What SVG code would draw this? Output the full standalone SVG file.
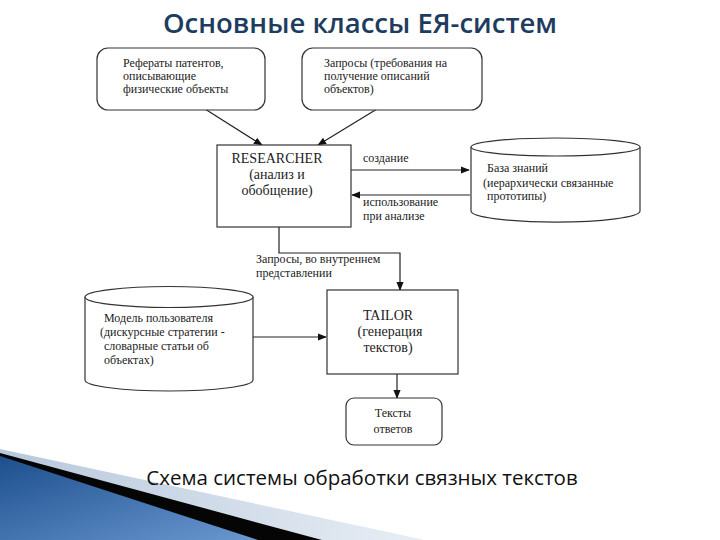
<svg xmlns="http://www.w3.org/2000/svg" width="720" height="540" viewBox="0 0 720 540">
<style>
.box{fill:#fff;stroke:#333;stroke-width:1.2}
.t{font-family:"Liberation Serif","Times New Roman",serif;font-size:12px;fill:#222}
.tb{font-family:"Liberation Serif","Times New Roman",serif;font-size:14px;fill:#222}
.ln{fill:none;stroke:#222;stroke-width:1.2}
</style>
<defs>
<marker id="ah" viewBox="0 0 10 10" refX="9" refY="5" markerWidth="9" markerHeight="9" markerUnits="userSpaceOnUse" orient="auto">
<path d="M0,1 L10,5 L0,9 Z" fill="#111"/>
</marker>
<linearGradient id="blue" x1="0" y1="0" x2="1" y2="1">
<stop offset="0" stop-color="#1d4f8e"/>
<stop offset="1" stop-color="#6a98d0"/>
</linearGradient>
<linearGradient id="light" x1="0" y1="0" x2="1" y2="0">
<stop offset="0" stop-color="#b8c8dc"/>
<stop offset="1" stop-color="#e8eef5"/>
</linearGradient>
</defs>
<rect width="720" height="540" fill="#fff"/>

<g id="decor">
<polygon points="0,449 425,540 0,540" fill="url(#light)"/>
<polygon points="0,453 322,540 0,540" fill="#050505"/>
<polygon points="0,456 258,540 0,540" fill="url(#blue)"/>
</g>

<g id="title">
<text x="360" y="33" text-anchor="middle" font-family="'Open Sans','Noto Sans',sans-serif" font-size="27.5" font-weight="600" fill="#1e3c60">Основные классы ЕЯ-систем</text>
</g>

<g id="caption">
<text x="362" y="485" text-anchor="middle" font-family="'Open Sans','Noto Sans',sans-serif" font-size="20.5" fill="#111">Схема системы обработки связных текстов</text>
</g>

<g id="connectors">
<line class="ln" x1="205" y1="109" x2="262" y2="145" marker-end="url(#ah)"/>
<line class="ln" x1="377" y1="109" x2="318" y2="145" marker-end="url(#ah)"/>
<line class="ln" x1="351" y1="170" x2="469" y2="170" marker-end="url(#ah)"/>
<line class="ln" x1="470" y1="195" x2="352" y2="195" marker-end="url(#ah)"/>
<polyline class="ln" points="279,227 279,253 400,253 400,290" marker-end="url(#ah)"/>
<line class="ln" x1="253" y1="337" x2="326" y2="337" marker-end="url(#ah)"/>
<line class="ln" x1="397" y1="374" x2="397" y2="398" marker-end="url(#ah)"/>
<text class="t" x="363" y="162">создание</text>
<text class="t" x="363" y="206">использование</text>
<text class="t" x="363" y="220">при анализе</text>
<text class="t" x="256" y="263">Запросы, во внутреннем</text>
<text class="t" x="256" y="277">представлении</text>
</g>

<g id="callout1">
<rect class="box" x="97" y="48" width="168" height="62" rx="11"/>
<text class="t" x="123" y="67">Рефераты патентов,</text>
<text class="t" x="123" y="80">описывающие</text>
<text class="t" x="123" y="93">физические объекты</text>
</g>

<g id="callout2">
<rect class="box" x="302" y="48" width="180" height="62" rx="11"/>
<text class="t" x="324" y="67">Запросы (требования на</text>
<text class="t" x="324" y="80">получение описаний</text>
<text class="t" x="324" y="93">объектов)</text>
</g>

<g id="researcher">
<rect class="box" x="217" y="145" width="134" height="82"/>
<text class="tb" x="277" y="163" text-anchor="middle">RESEARCHER</text>
<text class="tb" x="277" y="179" text-anchor="middle">(анализ и</text>
<text class="tb" x="277" y="195" text-anchor="middle">обобщение)</text>
</g>

<g id="kb">
<path class="box" d="M471,147 L471,211 A84,11 0 0 0 640,211 L640,147"/>
<ellipse class="box" cx="555.5" cy="147" rx="84.5" ry="9"/>
<text class="t" x="487" y="172">База знаний</text>
<text class="t" x="483" y="187">(иерархически связанные</text>
<text class="t" x="487" y="200">прототипы)</text>
</g>

<g id="usermodel">
<path class="box" d="M85,297 L85,380 A84,11 0 0 0 253,380 L253,297"/>
<ellipse class="box" cx="169" cy="297" rx="84" ry="10.5"/>
<text class="t" x="104" y="322">Модель пользователя</text>
<text class="t" x="100" y="336">(дискурсные стратегии -</text>
<text class="t" x="104" y="350">словарные статьи об</text>
<text class="t" x="104" y="364">объектах)</text>
</g>

<g id="tailor">
<rect class="box" x="327" y="290" width="131" height="84"/>
<text class="tb" x="388" y="320" text-anchor="middle">TAILOR</text>
<text class="tb" x="390" y="336" text-anchor="middle">(генерация</text>
<text class="tb" x="388" y="352" text-anchor="middle">текстов)</text>
</g>

<g id="answers">
<rect class="box" x="346" y="398" width="96" height="47" rx="8"/>
<text class="t" x="393" y="417" text-anchor="middle">Тексты</text>
<text class="t" x="393" y="433" text-anchor="middle">ответов</text>
</g>
</svg>
